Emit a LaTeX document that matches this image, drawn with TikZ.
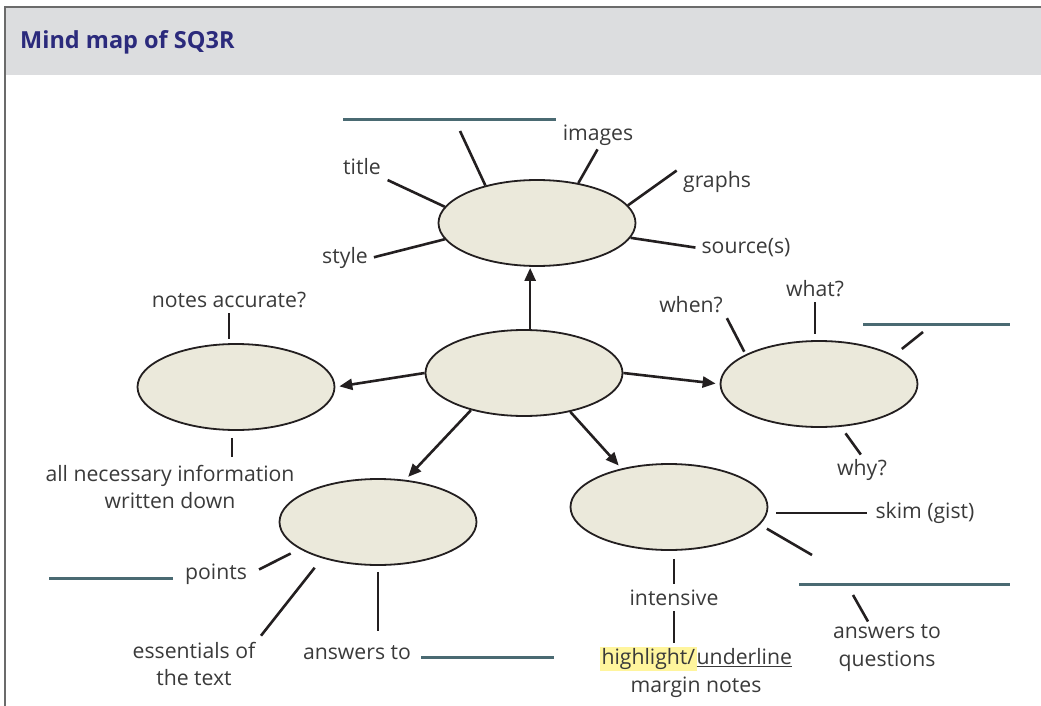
\documentclass[tikz,border=0pt]{standalone}
\usepackage{fontspec}
\setmainfont{Open Sans}
\usetikzlibrary{arrows.meta, shapes.geometric}

\definecolor{headgray}{HTML}{DCDDDF}
\definecolor{framegray}{HTML}{6B6B6B}
\definecolor{titleblue}{HTML}{2B2A7C}
\definecolor{bubblefill}{HTML}{EBE9DB}
\definecolor{blankteal}{HTML}{4A6A72}
\definecolor{ink}{HTML}{231F20}
\definecolor{txt}{HTML}{3A3A3A}
\definecolor{hl}{HTML}{FFF59D}

\begin{document}
\begin{tikzpicture}[x=1pt, y=-1pt,
    bubble/.style={ellipse, draw=ink, line width=1.8pt, fill=bubblefill, minimum width=197pt, minimum height=86pt, inner sep=0pt},
    lbl/.style={text=txt, font=\fontsize{21.2}{27.5}\selectfont, align=center, inner sep=3pt},
    spoke/.style={draw=ink, line width=2.6pt},
    blankline/.style={draw=blankteal, line width=3pt},
    arr/.style={spoke, -{Triangle[length=13pt,width=11pt]}, shorten >=4pt}]
    \useasboundingbox (0,0) rectangle (1041,706);
    % kopfzeile
    \fill[headgray] (5,8) rectangle (1041,75);
    \draw[framegray, line width=1.6pt] (1041,7) -- (5,7) -- (5,706);
    \node[anchor=west, inner sep=0pt, text=titleblue, font=\bfseries\fontsize{23.5}{28}\selectfont] (heading) at (20,42) {Mind map of SQ3R};

    % ellipsen
    \node[bubble] (sqr) at (524,373) {};
    \node[bubble] (survey) at (537,223) {};
    \node[bubble] (review) at (236,387) {};
    \node[bubble] (question) at (819,384) {};
    \node[bubble] (recite) at (378,522) {};
    \node[bubble] (read) at (669,507) {};

    % texte
    \node[lbl] (title) at (362,167) {title};
    \node[lbl] (images) at (598,135) {images};
    \node[lbl] (graphs) at (717,182) {graphs};
    \node[lbl] (sources) at (746,248) {source(s)};
    \node[lbl] (style) at (345,258) {style};
    \node[lbl] (notes) at (229,300) {notes accurate?};
    \node[lbl] (allinfo) at (170,487) {all necessary information\\written down};
    \node[lbl] (when) at (691,305) {when?};
    \node[lbl] (what) at (815,289) {what?};
    \node[lbl] (why) at (862,470) {why?};
    \node[lbl] (skim) at (925,513) {skim (gist)};
    \node[lbl] (answersq) at (887,648) {answers to\\questions};
    \node[lbl] (intensive) at (674,598) {intensive};
    \node[lbl] (highlight) at (696,672) {{\setlength{\fboxsep}{1.5pt}\colorbox{hl}{highlight/}}\underline{underline}\\margin notes};
    \node[lbl] (points) at (216,574) {points};
    \node[lbl] (essentials) at (194,664) {essentials of\\the text};
    \node[lbl] (answers) at (357,653) {answers to};

    % freie enden und leerzeilen
    \coordinate (gapS) at (460,131);
    \coordinate (gapQ) at (923,332);
    \coordinate (gapR) at (812,555);
    \coordinate (gapA) at (853,595);
    \coordinate (blankS1) at (343,120); \coordinate (blankS2) at (556,120);
    \coordinate (blankQ1) at (863,324); \coordinate (blankQ2) at (1010,324);
    \coordinate (blankR1) at (799,584); \coordinate (blankR2) at (1010,584);
    \coordinate (blankP1) at (49,578); \coordinate (blankP2) at (173,578);
    \coordinate (blankA1) at (421,657); \coordinate (blankA2) at (554,657);
    \draw[blankline] (blankS1) -- (blankS2);
    \draw[blankline] (blankQ1) -- (blankQ2);
    \draw[blankline] (blankR1) -- (blankR2);
    \draw[blankline] (blankP1) -- (blankP2);
    \draw[blankline] (blankA1) -- (blankA2);

    % pfeile
    \draw[arr, shorten >=1pt] (sqr.82) -- (sqr.82 |- survey.south);
    \draw[arr] (sqr.west) -- (review.east);
    \draw[arr] (sqr.east) -- (question.west);
    \draw[arr] (sqr.215) -- (recite.57);
    \draw[arr] (sqr.320) -- (read.141);

    % survey
    \draw[spoke, shorten >=4pt] (survey.170) -- (title.south east);
    \draw[spoke] (survey.144) -- (gapS);
    \draw[spoke, shorten >=1pt] (survey.44) -- (images.south);
    \draw[spoke, shorten >=4pt] (survey.11) -- (graphs.north west);
    \draw[spoke, shorten >=3pt] (survey.-9) -- (sources.west);
    \draw[spoke, shorten >=3pt] (survey.190) -- (style.east);
    % question
    \draw[spoke, shorten <=3pt, shorten >=2pt] (question.158) -- (when.south east);
    \draw[spoke, shorten <=2pt, shorten >=6pt] (what.south) -- (what.south |- question.north);
    \draw[spoke, shorten <=10pt] (question.21) -- (gapQ);
    \draw[spoke, shorten <=8pt, shorten >=2pt] (question.-63) -- (why.north);
    % review
    \draw[spoke, shorten <=2pt, shorten >=4pt] (notes.south) -- (notes.south |- review.north);
    \draw[spoke, shorten <=7pt, shorten >=5pt] (review.265) -- (review.265 |- allinfo.north);
    % read
    \draw[spoke, shorten <=8pt, shorten >=5pt] (read.east |- skim) -- (skim.west);
    \draw[spoke, shorten <=8pt] (read.-11) -- (gapR);
    \draw[spoke] ([xshift=-19pt]answersq.north) -- (gapA);
    \draw[spoke, shorten <=8pt, shorten >=3pt] (intensive.north |- read.south) -- (intensive.north);
    \draw[spoke, shorten <=2pt, shorten >=1pt] (intensive.south) -- (intensive.south |- highlight.north);
    % recite
    \draw[spoke, shorten <=10pt, shorten >=10pt] (recite.199) -- (points.east);
    \draw[spoke, shorten <=12pt, shorten >=4pt] (recite.213) -- (essentials.north east);
    \draw[spoke, shorten <=6pt, shorten >=12pt] (recite.south) -- (recite.south |- answers.north);
\end{tikzpicture}
\end{document}
